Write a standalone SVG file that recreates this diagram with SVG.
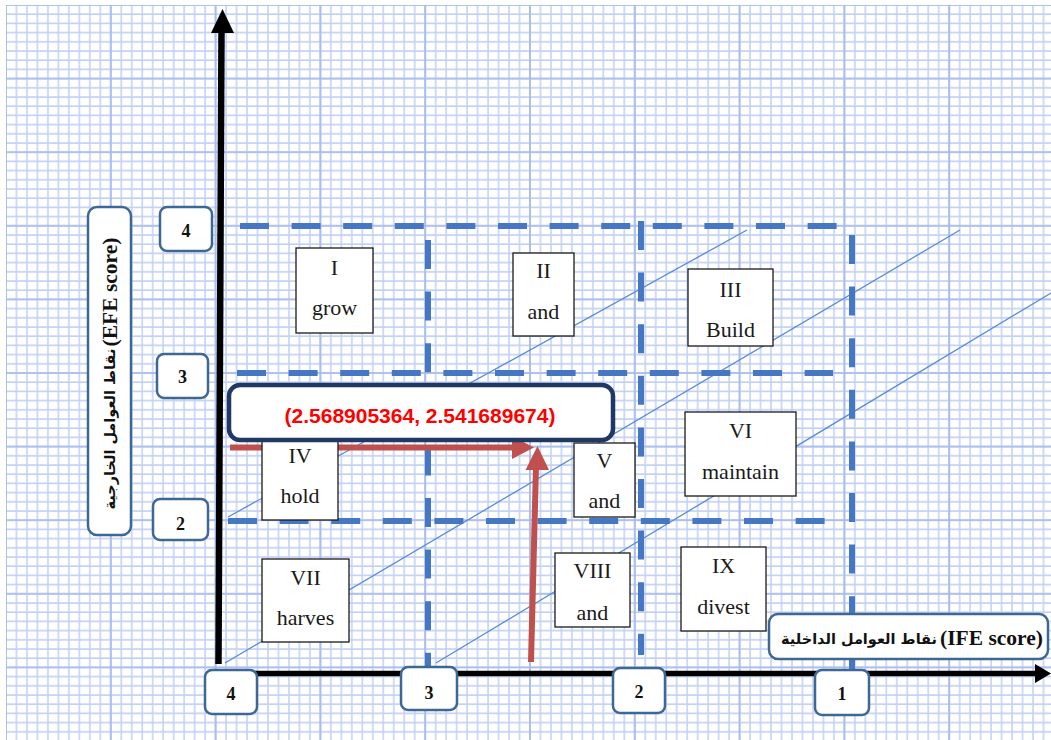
<svg xmlns="http://www.w3.org/2000/svg" width="1051" height="740" viewBox="0 0 1051 740">
<defs>
<pattern id="gmin" x="5" y="4" width="10.48" height="9.2" patternUnits="userSpaceOnUse">
<path d="M1 0V9.2M0 1H10.48" stroke="#c2d0f5" stroke-width="1.5" fill="none"/>
</pattern>
<pattern id="gmaj" x="5" y="4" width="104.8" height="73.6" patternUnits="userSpaceOnUse">
<path d="M1 0V73.6M0 1H104.8" stroke="#a6baec" stroke-width="1.7" fill="none"/>
</pattern>
<style>
.q rect{fill:#fff;stroke:#1a1a1a;stroke-width:1.3}
.q text{font-family:"Liberation Serif","Times New Roman",serif;font-size:22px;fill:#1a1a1a;text-anchor:middle}
.ax rect,.lb rect{fill:#fff;stroke:#3d6794;stroke-width:2.5}
.ax text{font-family:"Liberation Serif","Times New Roman",serif;font-weight:bold;font-size:18px;fill:#111;text-anchor:middle}
.lb .lat{font-family:"Liberation Serif","Times New Roman",serif;font-weight:bold;font-size:21.5px;fill:#111;text-anchor:middle}
.lb .ar{font-family:"DejaVu Sans",sans-serif;font-weight:bold;font-size:14.5px;fill:#111;text-anchor:middle}
.dash{stroke:#4677c2;stroke-width:6;stroke-dasharray:29 22.6;fill:none}
.diag{stroke:#5a8bd6;stroke-width:1.3;fill:none}
.red{stroke:#c0504d;stroke-width:6;fill:none}
</style>
</defs>
<rect x="0" y="0" width="1051" height="740" fill="#fff"/>
<rect x="6" y="5" width="1045" height="735" fill="url(#gmin)"/>
<rect x="6" y="5" width="1045" height="735" fill="url(#gmaj)"/>

<g id="connectors">
<line class="diag" x1="228" y1="517" x2="747" y2="230"/>
<line class="diag" x1="225" y1="663" x2="960" y2="230"/>
<line class="diag" x1="436" y1="663" x2="1051" y2="293"/>
<line class="dash" x1="240" y1="226" x2="837" y2="226"/>
<line class="dash" x1="237" y1="373" x2="833" y2="373"/>
<line class="dash" x1="228" y1="521" x2="825" y2="521"/>
<line class="dash" x1="428" y1="240" x2="428" y2="681"/>
<line class="dash" x1="641" y1="221" x2="641" y2="655"/>
<line class="dash" x1="852" y1="235" x2="852" y2="677"/>
<line x1="218.5" y1="664" x2="221.5" y2="30" stroke="#000" stroke-width="6.5"/>
<polygon points="211,33 222.5,9 234,33" fill="#000"/>
<line x1="218" y1="673.5" x2="1038" y2="673.5" stroke="#000" stroke-width="5.5"/>
<polygon points="1035,664 1051,673.5 1035,683" fill="#000"/>
<line class="red" x1="230" y1="447.5" x2="515" y2="447.5"/>
<polygon points="512,436 534,447.5 512,459" fill="#c0504d"/>
<line class="red" x1="531" y1="662" x2="536" y2="466"/>
<polygon points="525.5,470 537.5,446 549,470" fill="#c0504d"/>
</g>

<g id="box-I" class="q"><rect x="296" y="248" width="77" height="85"/><text x="334.5" y="275">I</text><text x="334.5" y="315">grow</text></g>
<g id="box-II" class="q"><rect x="513" y="253" width="61" height="83"/><text x="543.5" y="278">II</text><text x="543.5" y="319">and</text></g>
<g id="box-III" class="q"><rect x="688" y="269" width="85" height="77"/><text x="730.5" y="297">III</text><text x="730.5" y="337">Build</text></g>
<g id="box-IV" class="q"><rect x="262" y="430" width="76" height="90"/><text x="300" y="463">IV</text><text x="300" y="503">hold</text></g>
<g id="box-V" class="q"><rect x="574" y="443" width="61" height="74"/><text x="604.5" y="468">V</text><text x="604.5" y="508">and</text></g>
<g id="box-VI" class="q"><rect x="685" y="412" width="111" height="84"/><text x="740.5" y="438">VI</text><text x="740.5" y="479">maintain</text></g>
<g id="box-VII" class="q"><rect x="262" y="559" width="87" height="83"/><text x="305.5" y="585">VII</text><text x="305.5" y="625">harves</text></g>
<g id="box-VIII" class="q"><rect x="555" y="553" width="75" height="74"/><text x="592.5" y="578">VIII</text><text x="592.5" y="620">and</text></g>
<g id="box-IX" class="q"><rect x="681" y="547" width="85" height="84"/><text x="723.5" y="573">IX</text><text x="723.5" y="614">divest</text></g>

<g id="callout">
<rect x="229" y="385" width="384" height="55" rx="11" fill="#fff" stroke="#1f3864" stroke-width="4.5"/>
<text x="420" y="423" font-family="'Liberation Sans',Arial,sans-serif" font-weight="bold" font-size="21" fill="#ff0000" text-anchor="middle">(2.568905364, 2.541689674)</text>
</g>

<g id="y4" class="ax"><rect x="160" y="207" width="52" height="44" rx="7"/><text x="186" y="237">4</text></g>
<g id="y3" class="ax"><rect x="157" y="354" width="51" height="44" rx="7"/><text x="182.5" y="383">3</text></g>
<g id="y2" class="ax"><rect x="153" y="499" width="55" height="41" rx="7"/><text x="180.5" y="530">2</text></g>
<g id="x4" class="ax"><rect x="205" y="670" width="52" height="44" rx="7"/><text x="231" y="700">4</text></g>
<g id="x3" class="ax"><rect x="401" y="667" width="56" height="43" rx="7"/><text x="429" y="699">3</text></g>
<g id="x2" class="ax"><rect x="613" y="668" width="52" height="45" rx="7"/><text x="639" y="698">2</text></g>
<g id="x1" class="ax"><rect x="815" y="670" width="54" height="45" rx="7"/><text x="842" y="700">1</text></g>

<g id="x-label" class="lb">
<rect x="769" y="614" width="279" height="45" rx="9"/>
<text class="ar" x="859" y="644">نقاط العوامل الداخلية</text>
<text class="lat" x="991.5" y="645">(IFE score)</text>
</g>
<g id="y-label" class="lb">
<rect x="88" y="207" width="43" height="328" rx="9"/>
<g transform="translate(109.5,371) rotate(-90)">
<text class="ar" x="-58" y="5">نقاط العوامل الخارجية</text>
<text class="lat" x="79" y="7">(EFE score)</text>
</g>
</g>
</svg>
